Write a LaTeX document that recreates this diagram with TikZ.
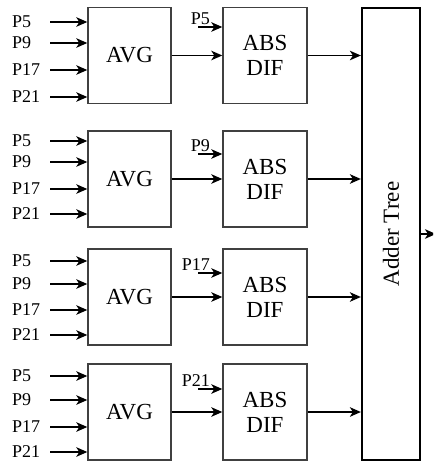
\documentclass[tikz,border=0pt]{standalone}
\usepackage{fontspec}
\setmainfont{Liberation Serif}
\usepackage{tikz}
\usetikzlibrary{arrows.meta,positioning,calc}
\definecolor{boxgray}{RGB}{64, 64, 64}

\tikzset{
    blk/.style={draw=boxgray,line width=1.4pt,minimum width=83pt,minimum height=96pt,
        inner sep=0pt,align=center,font=\fontsize{23}{25}\selectfont},
    adder/.style={draw=black,line width=2.2pt,minimum width=58pt,minimum height=452pt,inner sep=0pt,
        font=\fontsize{23}{25}\selectfont},
    pin/.style={inner sep=0pt,anchor=west,font=\fontsize{18}{20}\selectfont},
    sel/.style={inner sep=0pt,anchor=south east,font=\fontsize{18}{20}\selectfont},
    arr/.style={line width=1.6pt,-{Stealth[length=11pt,width=9.5pt,inset=3pt]}}
}

\begin{document}
\begin{tikzpicture}[x=1pt,y=-1pt]
    \clip (0,0) rectangle (433,462);
    \useasboundingbox (0,0) rectangle (433,462);

    % Adder tree
    \node[adder] (tree) at (391,234) {\rotatebox{90}{Adder Tree}};
    \coordinate (out) at (436,234);
    \draw[arr] (tree.east) -- (out);

    % Row 1 (P5)
    \node[blk] (avg1) at (129.5,55.5) {AVG};
    \node[blk,minimum width=84pt] (dif1) at (265,55.5) {ABS\\DIF};
    \node[pin] (p1a) at (12,22) {P5};
    \node[pin] (p1b) at (12,43) {P9};
    \node[pin] (p1c) at (12,70) {P17};
    \node[pin] (p1d) at (12,97) {P21};
    \foreach \p in {p1a,p1b,p1c,p1d}
        \draw[arr] ([xshift=38pt]\p.west) -- (\p.west -| avg1.west);
    \coordinate (s1) at (198,27);
    \node[sel] (q1) at ([xshift=12pt,yshift=2.5pt]s1) {P5};
    \draw[arr] (s1) -- (s1 -| dif1.west);
    \draw[arr] (avg1.east) -- (dif1.west);
    \draw[arr] (dif1.east) -- (dif1.east -| tree.west);

    % Row 2 (P9)
    \node[blk] (avg2) at (129.5,179) {AVG};
    \node[blk,minimum width=84pt] (dif2) at (265,179) {ABS\\DIF};
    \node[pin] (p2a) at (12,141) {P5};
    \node[pin] (p2b) at (12,162) {P9};
    \node[pin] (p2c) at (12,189) {P17};
    \node[pin] (p2d) at (12,214) {P21};
    \foreach \p in {p2a,p2b,p2c,p2d}
        \draw[arr] ([xshift=38pt]\p.west) -- (\p.west -| avg2.west);
    \coordinate (s2) at (198,154);
    \node[sel] (q2) at ([xshift=12pt,yshift=2.5pt]s2) {P9};
    \draw[arr] (s2) -- (s2 -| dif2.west);
    \draw[arr] (avg2.east) -- (dif2.west);
    \draw[arr] (dif2.east) -- (dif2.east -| tree.west);

    % Row 3 (P17)
    \node[blk] (avg3) at (129.5,297) {AVG};
    \node[blk,minimum width=84pt] (dif3) at (265,297) {ABS\\DIF};
    \node[pin] (p3a) at (12,261) {P5};
    \node[pin] (p3b) at (12,284) {P9};
    \node[pin] (p3c) at (12,310) {P17};
    \node[pin] (p3d) at (12,335) {P21};
    \foreach \p in {p3a,p3b,p3c,p3d}
        \draw[arr] ([xshift=38pt]\p.west) -- (\p.west -| avg3.west);
    \coordinate (s3) at (198,273);
    \node[sel] (q3) at ([xshift=12pt,yshift=2.5pt]s3) {P17};
    \draw[arr] (s3) -- (s3 -| dif3.west);
    \draw[arr] (avg3.east) -- (dif3.west);
    \draw[arr] (dif3.east) -- (dif3.east -| tree.west);

    % Row 4 (P21)
    \node[blk] (avg4) at (129.5,412) {AVG};
    \node[blk,minimum width=84pt] (dif4) at (265,412) {ABS\\DIF};
    \node[pin] (p4a) at (12,376) {P5};
    \node[pin] (p4b) at (12,400) {P9};
    \node[pin] (p4c) at (12,427) {P17};
    \node[pin] (p4d) at (12,452) {P21};
    \foreach \p in {p4a,p4b,p4c,p4d}
        \draw[arr] ([xshift=38pt]\p.west) -- (\p.west -| avg4.west);
    \coordinate (s4) at (198,389);
    \node[sel] (q4) at ([xshift=12pt,yshift=2.5pt]s4) {P21};
    \draw[arr] (s4) -- (s4 -| dif4.west);
    \draw[arr] (avg4.east) -- (dif4.west);
    \draw[arr] (dif4.east) -- (dif4.east -| tree.west);
\end{tikzpicture}
\end{document}
